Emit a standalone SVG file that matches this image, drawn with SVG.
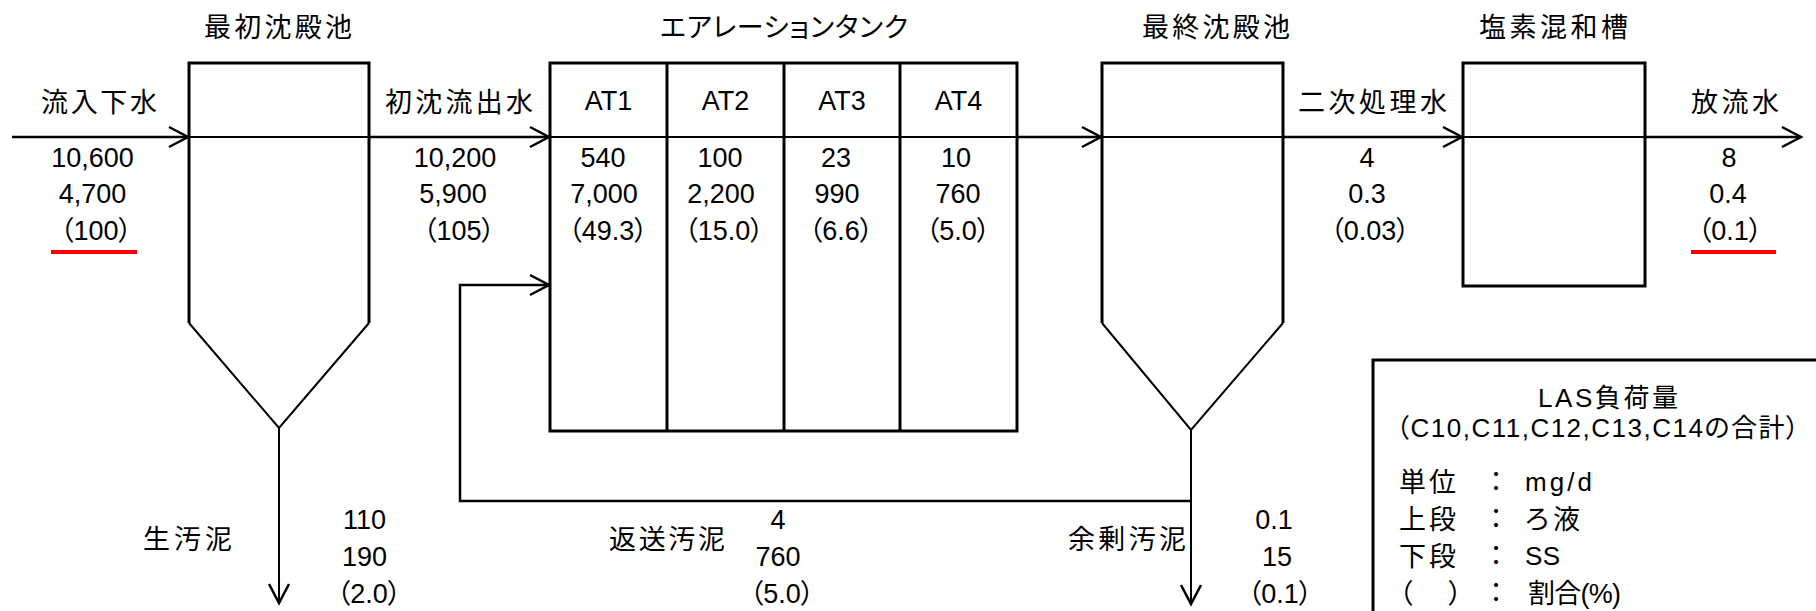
<svg xmlns="http://www.w3.org/2000/svg" width="1816" height="611" viewBox="0 0 1816 611">
<style>
text{font-family:"Liberation Sans","Noto Sans CJK JP",sans-serif;fill:#000;font-feature-settings:"palt";}
.j{font-size:27px;}
.n{font-size:27px;text-anchor:middle;}
.c{text-anchor:middle;}
.box{fill:none;stroke:#000;stroke-width:3;}
.thin{fill:none;stroke:#000;stroke-width:2;}
.flow{fill:none;stroke:#000;stroke-width:2.5;marker-end:url(#arr);}
.red{stroke:#ff0000;stroke-width:4;}
</style>
<defs>
<marker id="arr" markerUnits="userSpaceOnUse" markerWidth="24" markerHeight="24" viewBox="0 0 24 24" refX="21" refY="12" orient="auto"><path d="M2,2 L21,12 L2,22" fill="none" stroke="#000" stroke-width="2.5"/></marker>
</defs>
<rect width="1816" height="611" fill="#fff"/>

<g id="connectors">
<line class="flow" x1="12" y1="137" x2="188" y2="137"/>
<line class="flow" x1="369" y1="137" x2="549" y2="137"/>
<line class="flow" x1="1017" y1="137" x2="1101" y2="137"/>
<line class="flow" x1="1283" y1="137" x2="1462" y2="137"/>
<line class="flow" x1="1645" y1="137" x2="1801" y2="137"/>
<line class="flow" style="stroke-width:2" x1="279" y1="428" x2="279" y2="603"/>
<line class="flow" style="stroke-width:2" x1="1191" y1="430" x2="1191" y2="604"/>
<path class="flow" d="M1191,501 H460 V285 H549"/>
</g>

<g id="primary-clarifier">
<text class="j" x="204" y="37" textLength="148">最初沈殿池</text>
<path class="box" d="M189,323 V63 H369 V323"/>
<path class="thin" d="M189,323 L279,428 L369,323"/>
<line class="thin" x1="189" y1="137" x2="369" y2="137"/>
</g>

<g id="aeration-tank">
<text class="j" x="660" y="37" textLength="248">エアレーションタンク</text>
<rect class="box" x="550" y="63" width="467" height="368"/>
<line class="box" x1="667" y1="63" x2="667" y2="431"/>
<line class="box" x1="784" y1="63" x2="784" y2="431"/>
<line class="box" x1="900" y1="63" x2="900" y2="431"/>
<line class="thin" x1="550" y1="137" x2="1017" y2="137"/>
<text class="n" x="608.5" y="110">AT1</text>
<text class="n" x="725.5" y="110">AT2</text>
<text class="n" x="842" y="110">AT3</text>
<text class="n" x="958.5" y="110">AT4</text>
<text class="n" x="603" y="167">540</text>
<text class="n" x="604" y="203">7,000</text>
<text class="n" x="608" y="240">（49.3）</text>
<text class="n" x="720" y="167">100</text>
<text class="n" x="721" y="203">2,200</text>
<text class="n" x="724" y="240">（15.0）</text>
<text class="n" x="836" y="167">23</text>
<text class="n" x="837" y="203">990</text>
<text class="n" x="841" y="240">（6.6）</text>
<text class="n" x="956" y="167">10</text>
<text class="n" x="958" y="203">760</text>
<text class="n" x="958" y="240">（5.0）</text>
</g>

<g id="final-clarifier">
<text class="j" x="1142" y="37" textLength="148">最終沈殿池</text>
<path class="box" d="M1102,323 V63 H1283 V323"/>
<path class="thin" d="M1102,323 L1191,430 L1283,323"/>
<line class="thin" x1="1102" y1="137" x2="1283" y2="137"/>
</g>

<g id="chlorine-tank">
<text class="j" x="1479" y="37" textLength="149">塩素混和槽</text>
<rect class="box" x="1463" y="63" width="182" height="223"/>
<line class="thin" x1="1463" y1="137" x2="1645" y2="137"/>
</g>

<g id="stream-influent">
<text class="j" x="41" y="112" textLength="116">流入下水</text>
<text class="n" x="92.5" y="167">10,600</text>
<text class="n" x="92.5" y="203">4,700</text>
<text class="n" x="96" y="240">（100）</text>
<line class="red" x1="51" y1="252" x2="137" y2="252"/>
</g>

<g id="stream-primary-effluent">
<text class="j" x="385" y="112" textLength="148">初沈流出水</text>
<text class="n" x="455" y="167">10,200</text>
<text class="n" x="453" y="203">5,900</text>
<text class="n" x="459" y="240">（105）</text>
</g>

<g id="stream-secondary">
<text class="j" x="1298" y="112" textLength="149">二次処理水</text>
<text class="n" x="1367" y="167">4</text>
<text class="n" x="1367" y="203">0.3</text>
<text class="n" x="1370" y="240">（0.03）</text>
</g>

<g id="stream-discharge">
<text class="j" x="1691" y="112" textLength="88">放流水</text>
<text class="n" x="1729" y="167">8</text>
<text class="n" x="1728" y="203">0.4</text>
<text class="n" x="1730" y="240">（0.1）</text>
<line class="red" x1="1691" y1="252" x2="1776" y2="252"/>
</g>

<g id="stream-raw-sludge">
<text class="j" x="143" y="549" textLength="89">生汚泥</text>
<text class="n" x="364.5" y="529">110</text>
<text class="n" x="364.5" y="566">190</text>
<text class="n" x="369" y="603">（2.0）</text>
</g>

<g id="stream-return-sludge">
<text class="j" x="609" y="549" textLength="116">返送汚泥</text>
<text class="n" x="778" y="529">4</text>
<text class="n" x="778" y="566">760</text>
<text class="n" x="782" y="603">（5.0）</text>
</g>

<g id="stream-excess-sludge">
<text class="j" x="1068" y="549" textLength="118">余剰汚泥</text>
<text class="n" x="1274" y="529">0.1</text>
<text class="n" x="1277" y="566">15</text>
<text class="n" x="1280" y="603">（0.1）</text>
</g>

<g id="legend">
<rect class="box" x="1373" y="360" width="460" height="270"/>
<text x="1538" y="407" font-size="26" textLength="140">LAS負荷量</text>
<text x="1396" y="437" font-size="26" textLength="403">（C10,C11,C12,C13,C14の合計）</text>
<text class="j" x="1399" y="492" textLength="57">単位</text>
<text class="j c" x="1496" y="491">：</text>
<text x="1525" y="491" font-size="26" textLength="67">mg/d</text>
<text class="j" x="1399" y="529" textLength="57">上段</text>
<text class="j c" x="1496" y="528">：</text>
<text class="j" x="1525" y="529" textLength="55">ろ液</text>
<text class="j" x="1399" y="566" textLength="57">下段</text>
<text class="j c" x="1496" y="565">：</text>
<text x="1525" y="565" font-size="26" textLength="35">SS</text>
<text class="j" x="1399" y="603" textLength="63">（　　）</text>
<text class="j c" x="1496" y="602">：</text>
<text class="j" x="1528" y="603" textLength="93">割合(%)</text>
</g>
</svg>
